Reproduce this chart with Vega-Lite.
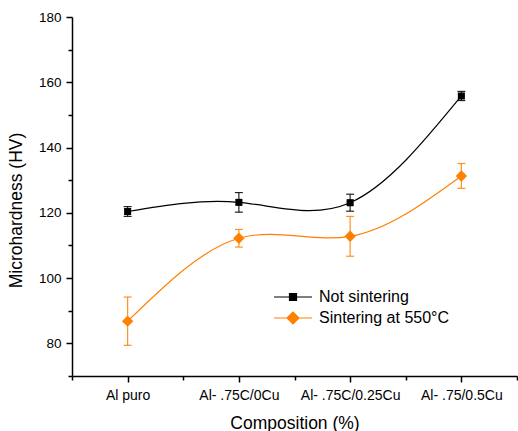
{
  "$schema": "https://vega.github.io/schema/vega-lite/v6.json",
  "width": 445,
  "height": 359,
  "autosize": "none",
  "padding": {"left": 72, "top": 17, "right": 1, "bottom": 55},
  "data": {
    "values": [
      {"comp": 1, "series": "Not sintering", "hv": 120.4, "err": 1.5},
      {"comp": 2, "series": "Not sintering", "hv": 123.2, "err": 3.0},
      {"comp": 3, "series": "Not sintering", "hv": 123.1, "err": 2.6},
      {"comp": 4, "series": "Not sintering", "hv": 155.8, "err": 1.4},
      {"comp": 1, "series": "Sintering at 550°C", "hv": 86.8, "err": 7.4},
      {"comp": 2, "series": "Sintering at 550°C", "hv": 112.2, "err": 2.7},
      {"comp": 3, "series": "Sintering at 550°C", "hv": 112.8, "err": 6.1},
      {"comp": 4, "series": "Sintering at 550°C", "hv": 131.3, "err": 3.8}
    ]
  },
  "encoding": {
    "x": {
      "field": "comp", "type": "quantitative",
      "scale": {"domain": [0.5, 4.5], "nice": false, "zero": false},
      "axis": {
        "title": "Composition (%)",
        "values": [0.5, 1, 1.5, 2, 2.5, 3, 3.5, 4, 4.5],
        "labelExpr": "datum.value == 1 ? 'Al puro' : datum.value == 2 ? 'Al- .75C/0Cu' : datum.value == 3 ? 'Al- .75C/0.25Cu' : datum.value == 4 ? 'Al- .75/0.5Cu' : ''",
        "tickSize": {"condition": {"test": "datum.value % 1 == 0", "value": 6}, "value": 4},
        "labelFontSize": 14,
        "labelPadding": 6,
        "titlePadding": 12,
        "titleFontSize": 17.5,
        "labelFlush": false,
        "labelOverlap": false
      }
    },
    "y": {
      "field": "hv", "type": "quantitative",
      "scale": {"domain": [70, 180], "nice": false, "zero": false},
      "axis": {
        "title": "Microhardness (HV)",
        "values": [70, 80, 90, 100, 110, 120, 130, 140, 150, 160, 170, 180],
        "labelExpr": "datum.value % 20 == 0 ? datum.label : ''",
        "tickSize": {"condition": {"test": "datum.value % 20 == 0", "value": 6}, "value": 4},
        "labelFontSize": 13.5,
        "labelPadding": 5,
        "titlePadding": 13,
        "titleFontSize": 17.5,
        "titleY": 193,
        "labelFlush": false,
        "labelOverlap": false
      }
    },
    "color": {
      "field": "series", "type": "nominal",
      "scale": {"domain": ["Not sintering", "Sintering at 550°C"], "range": ["#000000", "#FF8000"]},
      "legend": {
        "orient": "none",
        "legendX": 213,
        "legendY": 272,
        "title": null,
        "labelFont": "Liberation Sans",
        "labelFontSize": 16,
        "labelColor": "#000000",
        "symbolSize": 100,
        "labelOffset": 18,
        "rowPadding": 4,
        "encode": {
          "symbols": {
            "update": {
              "shape": {"signal": "datum.value === 'Not sintering' ? 'M-3.8,0H3.8M-0.7,-0.7H0.7V0.7H-0.7Z' : 'M-3.8,0H3.8M-1.2,0L0,-1.2L1.2,0L0,1.2Z'"},
              "fill": {"signal": "datum.value === 'Not sintering' ? '#000000' : '#FF8000'"},
              "stroke": {"signal": "datum.value === 'Not sintering' ? '#000000' : '#FF8000'"},
              "strokeWidth": {"value": 1.2},
              "opacity": {"value": 1}
            }
          }
        }
      }
    }
  },
  "layer": [
    {
      "mark": {"type": "errorbar", "ticks": {"size": 8}, "thickness": 1.2, "opacity": 0.85},
      "encoding": {
        "y": {"field": "hv", "type": "quantitative"},
        "yError": {"field": "err"}
      }
    },
    {
      "mark": {"type": "line", "interpolate": "natural", "strokeWidth": 1.2}
    },
    {
      "transform": [{"filter": "datum.series === 'Not sintering'"}],
      "mark": {"type": "point", "filled": true, "opacity": 1, "shape": "square", "size": 50}
    },
    {
      "transform": [{"filter": "datum.series !== 'Not sintering'"}],
      "mark": {"type": "point", "filled": true, "opacity": 1, "shape": "diamond", "size": 130}
    }
  ],
  "config": {
    "view": {"stroke": null},
    "axis": {
      "grid": false,
      "domainColor": "#000000",
      "domainWidth": 1.5,
      "tickColor": "#000000",
      "tickWidth": 1.5,
      "labelFont": "Liberation Sans",
      "labelFontSize": 13,
      "labelColor": "#000000",
      "titleFont": "Liberation Sans",
      "titleFontSize": 16,
      "titleFontWeight": "normal",
      "titleColor": "#000000"
    }
  }
}
